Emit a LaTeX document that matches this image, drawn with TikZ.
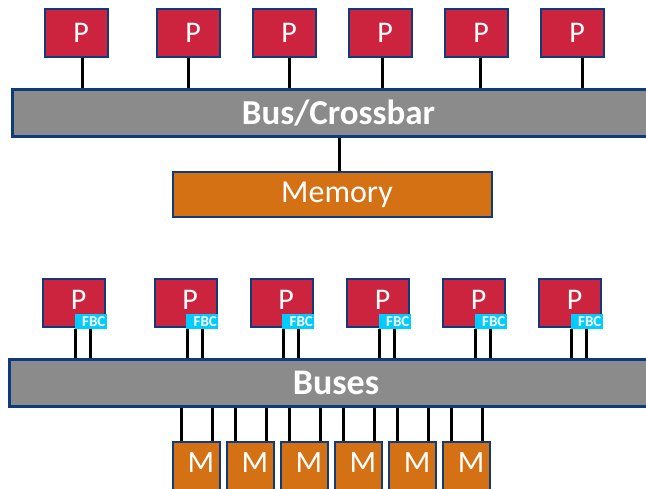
\documentclass[tikz,border=0pt]{standalone}
\usepackage{fontspec}
\setmainfont{Carlito}

\definecolor{procred}{RGB}{204,35,63}
\definecolor{edgeblue}{RGB}{14,60,122}
\definecolor{busgray}{RGB}{139,139,139}
\definecolor{memorange}{RGB}{211,113,20}
\definecolor{fbccyan}{RGB}{0,204,255}

\tikzset{
  proc/.style={draw=edgeblue, line width=2pt, fill=procred, text=white,
    minimum width=63pt, minimum height=48pt, inner sep=0pt,
    execute at begin node=\hspace*{9pt},
    font=\fontsize{30}{30}\selectfont},
  bar/.style={draw=edgeblue, line width=3pt, fill=busgray, text=white,
    minimum height=47pt, inner sep=0pt,
    font=\bfseries\fontsize{35}{35}\selectfont},
  mem/.style={draw=edgeblue, line width=2pt, fill=memorange, text=white,
    inner sep=0pt, execute at begin node=\hspace*{9pt},
    font=\fontsize{32}{32}\selectfont},
  fbc/.style={fill=fbccyan, text=white, minimum width=32pt, minimum height=15pt,
    inner sep=0pt, anchor=south east, execute at begin node=\hspace*{6pt},
    font=\bfseries\fontsize{15}{15}\selectfont},
  wire/.style={black, line width=3pt}
}

\begin{document}
\begin{tikzpicture}[x=1pt, y=-1pt]
\clip (0,0) rectangle (646,488);
\fill[white] (0,0) rectangle (646,488);

% Shared bus with one memory
\node[bar, minimum width=652pt] (bus) at (338.5,113) {Bus/Crossbar};
\node[mem, minimum width=319pt, minimum height=45pt] (memory) at (332.5,194.5) {Memory};
\foreach \i/\x in {1/76.5, 2/188.5, 3/284.5, 4/380.5, 5/476.5, 6/572.5}
  \node[proc] (p\i) at (\x,33) {P};

% Lines
\foreach \i/\dx in {1/6, 2/0, 3/4.5, 4/1.5, 5/3.5, 6/9.5}
  \draw[wire] ([xshift=\dx pt]p\i.south) -- ([xshift=\dx pt]p\i.south |- bus.north);
\draw[wire] ([xshift=6.5pt]memory.north) -- ([xshift=6.5pt]memory.north |- bus.south);

% Multiple buses, banked memory
\node[bar, minimum width=653pt, font=\bfseries\fontsize{36}{36}\selectfont] (buses) at (336,383) {Buses};
\foreach \i/\x in {1/74, 2/185.5, 3/281.5, 4/378, 5/474, 6/570} {
  \node[proc, minimum width=62pt, text depth=6pt] (q\i) at (\x,303) {P};
  \node[fbc] (f\i) at ([shift={(1,1)}]q\i.south east) {FBC};
}
\foreach \i/\x in {1/196.5, 2/250.5, 3/304.5, 4/358.5, 5/412.5, 6/466.5}
  \node[mem, minimum width=47pt, minimum height=48pt, text depth=6pt,
    font=\fontsize{31}{31}\selectfont] (m\i) at (\x,466) {M};

% Lines
\foreach \i in {1,...,6} {
  \draw[wire] ([xshift=1pt]f\i.south west) -- ([xshift=1pt]f\i.south west |- buses.north);
  \draw[wire] (f\i.south) -- (f\i.south |- buses.north);
  \draw[wire] ([xshift=9pt]m\i.north west) -- ([xshift=9pt]m\i.north west |- buses.south);
  \draw[wire] ([xshift=-9pt]m\i.north east) -- ([xshift=-9pt]m\i.north east |- buses.south);
}
\end{tikzpicture}
\end{document}
